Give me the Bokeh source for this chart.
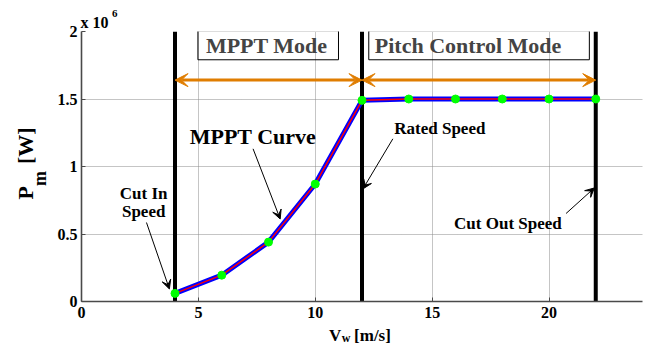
import numpy as np
from bokeh.plotting import figure
from bokeh.models import Label, Arrow, VeeHead, Range1d, FixedTicker
from bokeh.embed import file_html
from bokeh.resources import INLINE

# ---- data ----
wind_speed = [4, 6, 8, 10, 12, 14, 16, 18, 20, 22]
power_w = [0.06e6, 0.195e6, 0.44e6, 0.87e6, 1.49e6, 1.5e6, 1.5e6, 1.5e6, 1.5e6, 1.5e6]
boundary_speeds = [4, 12, 22]          # cut-in, rated, cut-out
x_ticks = [0, 5, 10, 15, 20]
y_ticks = [0, 0.5e6, 1e6, 1.5e6, 2e6]
y_tick_labels = ["0", "0.5", "1", "1.5", "2"]
mode_names = ["MPPT Mode", "Pitch Control Mode"]
mode_spans = [(4, 12), (12, 22)]

FONT = "Liberation Serif"
ORANGE = "#E07D00"
NB = "\u00a0"

p = figure(width=645, height=345, x_range=Range1d(0, 24), y_range=Range1d(0, 2e6),
           output_backend="svg", toolbar_location=None,
           min_border_left=80, min_border_right=3, min_border_top=31, min_border_bottom=44)
p.outline_line_color = None
p.background_fill_color = "white"
p.border_fill_color = "white"

# axes
p.xaxis.ticker = FixedTicker(ticks=x_ticks)
p.yaxis.ticker = FixedTicker(ticks=y_ticks)
p.yaxis.major_label_overrides = {t: l for t, l in zip(y_ticks, y_tick_labels)}
for ax in (p.xaxis, p.yaxis):
    ax.axis_line_color = "#4a4a4a"
    ax.axis_line_width = 1.6
    ax.major_tick_in = 4
    ax.major_tick_out = 0
    ax.major_tick_line_color = "#4a4a4a"
    ax.minor_tick_line_color = None
    ax.major_label_text_font = FONT
    ax.major_label_text_font_style = "bold"
    ax.major_label_text_font_size = "16px"
    ax.major_label_text_color = "black"
p.xaxis.major_label_standoff = 5
p.yaxis.major_label_standoff = 4

# grid
p.xgrid.ticker = FixedTicker(ticks=x_ticks[1:])
p.ygrid.ticker = FixedTicker(ticks=y_ticks[1:])
for g in (p.xgrid, p.ygrid):
    g.grid_line_color = "#8a8a8a"
    g.grid_line_dash = "1 1"
    g.grid_line_width = 1

# boundary lines
p.segment(x0=boundary_speeds, y0=[y_ticks[0]] * 3, x1=boundary_speeds, y1=[y_ticks[-1]] * 3,
          line_width=4, line_color="black")

# power curve
p.line(wind_speed, power_w, line_width=5, line_color="#0000FF")
p.line(wind_speed, power_w, line_width=1.5, line_color="#FF0000")
p.scatter(wind_speed, power_w, size=8, fill_color="#00FF00", line_color="#00FF00")

# mode arrows
for (a, b) in mode_spans:
    p.add_layout(Arrow(x_start=a, y_start=1.64e6, x_end=b, y_end=1.64e6,
                       line_color=ORANGE, line_width=3,
                       start=VeeHead(size=13, fill_color=ORANGE, line_color=ORANGE),
                       end=VeeHead(size=13, fill_color=ORANGE, line_color=ORANGE)))

# mode boxes
p.add_layout(Label(x=4.98, y=1.898e6, text=mode_names[0], text_font=FONT, text_font_style="bold",
                   text_font_size="22px", text_baseline="middle",
                   border_line_color="black", border_line_width=1, background_fill_color=None,
                   padding=dict(left=8, right=11, top=2, bottom=2)))
p.add_layout(Label(x=12.29, y=1.898e6, text=mode_names[1], text_font=FONT, text_font_style="bold",
                   text_font_size="22px", text_baseline="middle",
                   border_line_color="black", border_line_width=1, background_fill_color=None,
                   padding=dict(left=6, right=28, top=2, bottom=2)))

def lab(x, y, t, size, align="left", angle=0, place="center"):
    p.add_layout(Label(x=x, y=y, text=t, text_font=FONT, text_font_style="bold",
                       text_font_size=size, text_align=align, text_baseline="alphabetic",
                       angle=angle, text_color="black"), place)

def arr(x0, y0, x1, y1):
    p.add_layout(Arrow(x_start=x0, y_start=y0, x_end=x1, y_end=y1, line_color="black",
                       line_width=1, end=VeeHead(size=9, fill_color="black", line_color="black")))

# annotations
lab(2.66, 0.799e6, "Cut In", "17px", "center")
lab(2.66, 0.663e6, "Speed", "17px", "center")
arr(2.78, 0.585e6, 3.76, 0.093e6)
lab(4.63, 1.220e6, "MPPT Curve", "22px")
arr(7.34, 1.131e6, 8.50, 0.611e6)
lab(13.38, 1.282e6, "Rated Speed", "17px")
arr(13.32, 1.205e6, 12.04, 0.834e6)
lab(15.94, 0.576e6, "Cut Out Speed", "17px")
arr(20.73, 0.652e6, 21.94, 0.841e6)

# texts outside the frame (placed in side panels so they are not clipped)
lab(-0.04, 2.066e6, "x 10", "16px", place="above")
lab(1.30, 2.132e6, "6", "11px", place="above")
lab(-2.40, 0.756e6, "P" + NB * 4 + "[W]", "22px", angle=np.pi / 2, place="left")
lab(-1.76, 0.856e6, "m", "18px", angle=np.pi / 2, place="left")
lab(11.13, -0.274e6, "w", "12px", place="left")
lab(10.59, -0.252e6, "V" + NB * 3 + "[m/s]", "17px", place="below")

open("out.html", "w").write(file_html(p, INLINE))
